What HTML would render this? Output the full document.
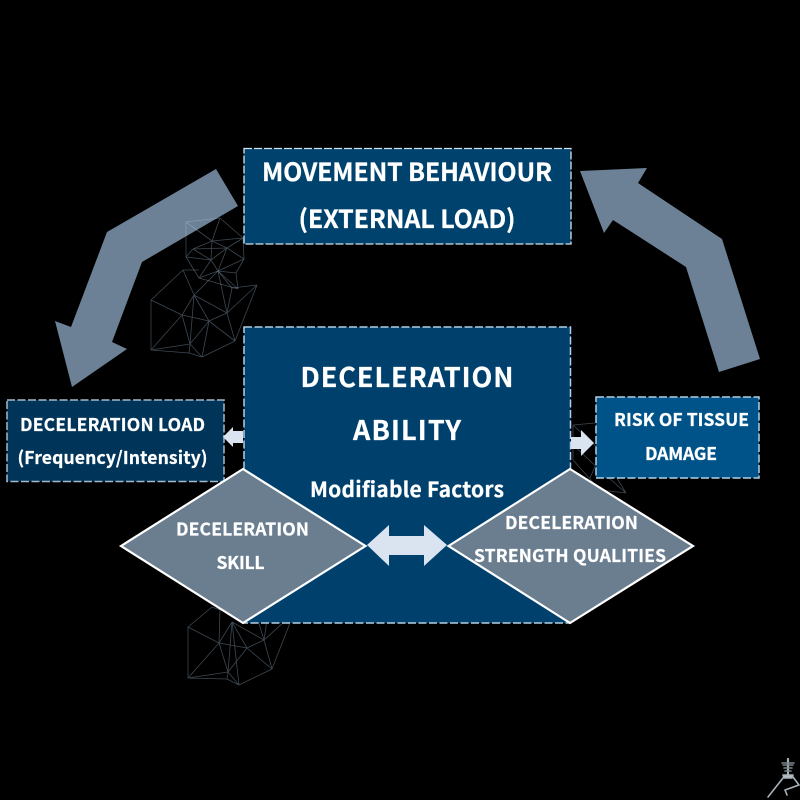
<!DOCTYPE html>
<html lang="en">
<head>
<meta charset="utf-8">
<title>Deceleration Ability Diagram</title>
<style>
html,body{margin:0;padding:0;background:#000;width:800px;height:800px;overflow:hidden}
svg{display:block}
text{font-family:"Noto Sans CJK JP","Liberation Sans",sans-serif;font-weight:700;fill:#fff;stroke:#fff;stroke-width:.25}
.box{stroke:#b4cfe3;stroke-width:1.5;stroke-dasharray:8 2.5}
.mesh{fill:none;stroke:#b4d2f0;stroke-opacity:.34;stroke-width:.8}
.dia{fill:#6a7e90;stroke:#fff;stroke-width:2.2;stroke-linejoin:miter}
</style>
</head>
<body>
<svg width="800" height="800" viewBox="0 0 800 800" xmlns="http://www.w3.org/2000/svg">
<rect width="800" height="800" fill="#000"/>

<!-- big curved arrows -->
<polygon fill="#6c8195" points="216,169 238,206 142,262 112,342 127,349 72,387 55,321 71,327 107,232"/>
<polygon fill="#6c8195" points="580,171 647,168 638,183 722,239 760,359 719,372 686,267 613,220 604,233"/>

<!-- mesh upper -->
<path class="mesh" d="M186,222L220,218M186,222L186,257M186,222L212,241M220,218L243,238M220,218L212,241M243,238L244,259M243,238L212,241M243,238L227,248M212,241L193,249M212,241L227,248M212,241L211,260M193,249L186,257M193,249L211,260M193,249L227,248M227,248L211,260M227,248L218,271M227,248L244,259M186,257L211,260M186,257L199,278M211,260L218,271M211,260L199,278M244,259L218,271M244,259L236,273M218,271L199,278M218,271L236,273M218,271L238,289M236,273L238,289M199,278L238,289"/>
<!-- mesh lower -->
<path class="mesh" d="M183,270L199,270M183,270L151,300M183,270L194,295M151,300L182,315M151,300L151,350M194,295L182,315M194,295L209,321M194,295L218,271M194,295L227,313M182,315L209,321M182,315L151,350M182,315L190,344M209,321L190,344M209,321L202,357M209,321L227,313M209,321L235,341M227,313L257,285M227,313L232,288M227,313L235,341M227,313L218,271M232,288L257,285M232,288L218,271M194,295L190,344M190,344L189,353M151,350L190,344M151,350L189,353M189,353L202,357M190,344L202,357M202,357L235,341M235,341L257,285"/>
<!-- mesh bottom -->
<path class="mesh" d="M188,627L212,607M212,607L220,610M188,627L188,678M188,627L219,643M220,610L219,643M232,622L219,643M232,622L247,648M232,622L264,640M232,622L228,672M232,622L239,685M219,643L247,648M219,643L188,678M219,643L228,672M247,648L264,640M247,648L228,672M247,648L272,669M264,640L272,669M264,640L294,613M264,640L257,617M264,640L268,613M268,613L294,613M272,669L290,623M272,669L239,685M188,678L228,672M188,678L227,679M228,672L227,679M227,679L239,685M228,672L239,685"/>
<!-- mesh right -->
<path class="mesh" d="M573,425L595,423M573,425L573,460M573,425L600,450M573,460L600,490M573,445L600,470M590,478L600,455M600,470L626,493M600,490L626,493M612,470L626,493"/>

<!-- main box -->
<rect class="box" x="244" y="327" width="326.5" height="296" fill="#00406c"/>
<!-- top box -->
<rect x="244" y="148.500" width="327" height="95.500" fill="#00426e" stroke="#d4e4ef" stroke-width="1.300" stroke-dasharray="8 2"/>
<!-- left box -->
<rect class="box" x="7" y="400" width="217" height="81.500" fill="#003459" style="stroke:#a5b9c9"/>
<!-- right box -->
<rect class="box" x="596" y="397" width="163" height="81" fill="#005388"/>

<!-- small arrows -->
<polygon fill="#d9e4f0" points="223,437 233,427 233,431 243,431 243,443 233,443 233,447"/>
<polygon fill="#d9e4f0" points="571,437 581,437 581,430 594,443 581,456 581,449 571,449"/>

<!-- diamonds -->
<polygon class="dia" points="121,546 243,469 365.500,546 243,623"/>
<polygon class="dia" points="448.500,546 570,469 693,546 570,623"/>

<!-- double arrow -->
<polygon fill="#d9e4f0" points="367,545 389,525 389,536 424,536 424,525 447,545 424,566 424,555 389,555 389,566"/>

<!-- labels -->
<text x="262" y="181" font-size="25" textLength="290" lengthAdjust="spacing">MOVEMENT BEHAVIOUR</text>
<text x="298.500" y="228" font-size="25" textLength="217" lengthAdjust="spacing">(EXTERNAL LOAD)</text>
<text x="300.500" y="387" font-size="27" textLength="213" lengthAdjust="spacing">DECELERATION</text>
<text x="353" y="440" font-size="27" textLength="108" lengthAdjust="spacing">ABILITY</text>
<text x="310" y="497" font-size="21" textLength="194" lengthAdjust="spacing">Modifiable Factors</text>
<text x="20" y="431" font-size="17.500" textLength="185" lengthAdjust="spacing">DECELERATION LOAD</text>
<text x="17.500" y="464" font-size="17.500" textLength="190" lengthAdjust="spacing">(Frequency/Intensity)</text>
<text x="614" y="426" font-size="17.500" textLength="135" lengthAdjust="spacing">RISK OF TISSUE</text>
<text x="645" y="460" font-size="17.500" textLength="72" lengthAdjust="spacing">DAMAGE</text>
<text x="176" y="535.500" font-size="17.500" textLength="133" lengthAdjust="spacing">DECELERATION</text>
<text x="216.500" y="569" font-size="17.500" textLength="48" lengthAdjust="spacing">SKILL</text>
<text x="505" y="529" font-size="17.500" textLength="133" lengthAdjust="spacing">DECELERATION</text>
<text x="474" y="562" font-size="17.500" textLength="192" lengthAdjust="spacing">STRENGTH QUALITIES</text>

<!-- runner icon -->
<g fill="none" stroke="#a8b2b9" stroke-width="1.600" stroke-linecap="round" stroke-linejoin="round">
<path d="M788,759L788,776" stroke-width="2.200"/>
<path d="M782,763L794,763M783,765L793,765M784,768L792,768M785,771L791,771" stroke="#7b858c"/>
<path d="M783,775L793,775L792,778L784,778Z" fill="#b4bec5"/>
<path d="M783,778L768,797"/>
<path d="M793,777L799,785L785,790L787,795"/>
</g>
</svg>
</body>
</html>
